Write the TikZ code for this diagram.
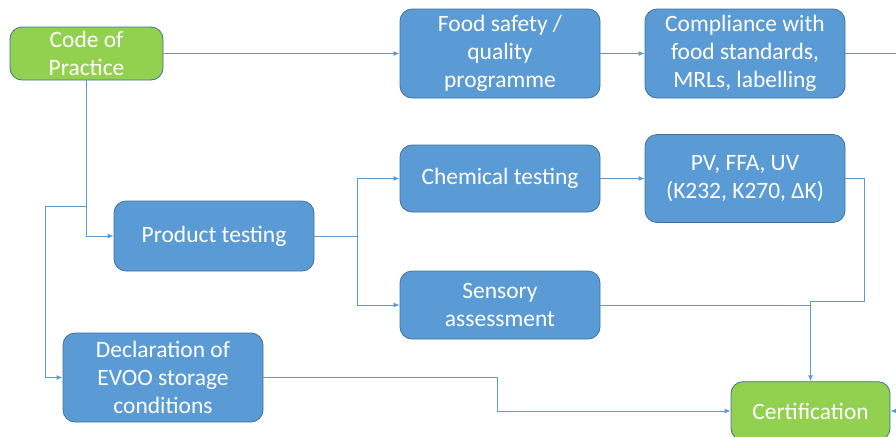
\documentclass[tikz,border=0pt]{standalone}
\usepackage{fontspec}
\setmainfont{Carlito}
\usetikzlibrary{arrows.meta}
\definecolor{boxblue}{HTML}{5B9BD5}
\definecolor{boxedge}{HTML}{41719C}
\definecolor{boxgreen}{HTML}{92D050}
\definecolor{linkblue}{HTML}{5B9BD5}
\begin{document}
\begin{tikzpicture}[x=0.75pt, y=-0.75pt,
  stage/.style={rectangle, rounded corners=9pt, draw=boxedge, line width=0.6pt, fill=boxblue, text=white,
    align=center, inner sep=0pt, font=\fontsize{17.6}{21}\selectfont},
  keystage/.style={stage, fill=boxgreen},
  link/.style={draw=linkblue, line width=0.75pt},
  arrowlink/.style={link, -{Latex[length=4.5pt,width=3.8pt]}}]
\clip (0,0) rectangle (896,436);
\useasboundingbox (0,0) rectangle (896,436);
\node[keystage, minimum width=114.75pt, minimum height=39.75pt] (code) at (86.5,53.5) {Code of\\Practice};
\node[stage, minimum width=150pt, minimum height=66.75pt] (food) at (500,53.5) {Food safety /\\quality\\programme};
\node[stage, minimum width=150pt, minimum height=66.75pt] (comp) at (745,53.5) {Compliance with\\food standards,\\MRLs, labelling};
\node[stage, minimum width=150pt, minimum height=50.25pt] (chem) at (500,178.5) {Chemical testing};
\node[stage, minimum width=150pt, minimum height=66pt] (pv) at (745,178.5) {PV, FFA, UV\\(K232, K270, ΔK)};
\node[stage, minimum width=150pt, minimum height=52.5pt] (prod) at (214,236) {Product testing};
\node[stage, minimum width=150pt, minimum height=51pt] (sens) at (500,305) {Sensory\\assessment};
\node[stage, minimum width=150pt, minimum height=66.75pt] (decl) at (163,377.5) {Declaration of\\EVOO storage\\conditions};
\node[keystage, minimum width=119.25pt, minimum height=44pt] (cert) at (810.5,411) {Certification};
\coordinate (spl) at (86.5,206);
\coordinate (lft) at (45,206);
\coordinate (fork) at (357,236);
\coordinate (pvdn) at (864,301);
\coordinate (dmid) at (497,377.5);
\coordinate (offr) at (930,53.5);
\draw[arrowlink] (code.east) -- (food.west);
\draw[arrowlink] (food.east) -- (comp.west);
\draw[arrowlink] (comp.east) -- (offr) |- (cert.east);
\draw[arrowlink] (code.south) |- (prod.west);
\draw[arrowlink] (spl) -- (lft) |- (decl.west);
\draw[link] (prod.east) -- (fork);
\draw[arrowlink] (fork) |- (chem.west);
\draw[arrowlink] (fork) |- (sens.west);
\draw[arrowlink] (chem.east) -- (pv.west);
\draw[arrowlink] (pv.east) -| (pvdn) -| (cert.north);
\draw[link] (sens.east) -- (sens.east -| cert.north);
\draw[arrowlink] (decl.east) -- (dmid) |- (cert.west);
\end{tikzpicture}
\end{document}
